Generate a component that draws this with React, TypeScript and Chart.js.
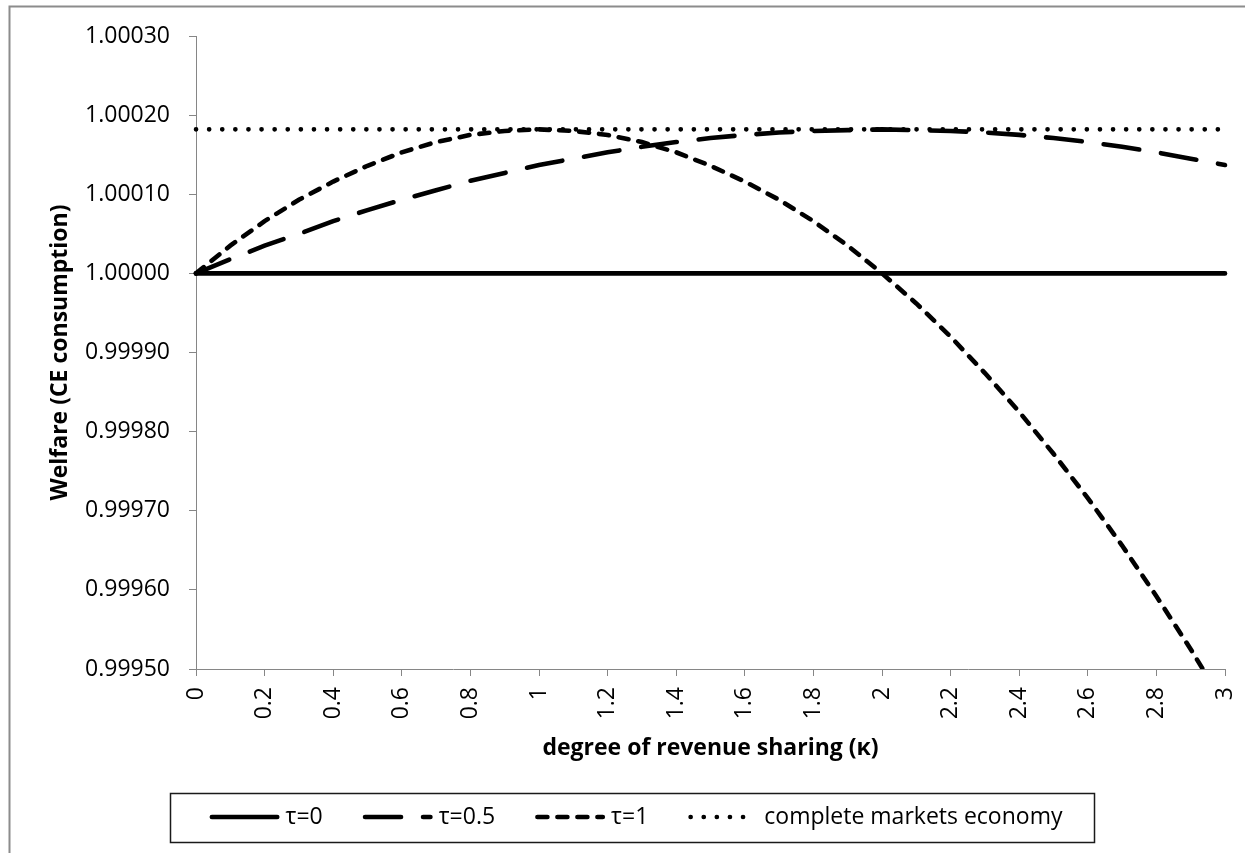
import React, { useEffect, useRef } from 'react';
import { Chart, registerables } from 'chart.js';

Chart.register(...registerables);

// ---------- data ----------
const kappa = [
  0, 0.1, 0.2, 0.3, 0.4, 0.5, 0.6, 0.7, 0.8, 0.9, 1.0,
  1.1, 1.2, 1.3, 1.4, 1.5, 1.6, 1.7, 1.8, 1.9, 2.0,
  2.1, 2.2, 2.3, 2.4, 2.5, 2.6, 2.7, 2.8, 2.9, 3.0,
];

const tau0 = [
  1.0, 1.0, 1.0, 1.0, 1.0, 1.0, 1.0, 1.0, 1.0, 1.0, 1.0,
  1.0, 1.0, 1.0, 1.0, 1.0, 1.0, 1.0, 1.0, 1.0, 1.0,
  1.0, 1.0, 1.0, 1.0, 1.0, 1.0, 1.0, 1.0, 1.0, 1.0,
];

const tau05 = [
  1.000000, 1.000018, 1.000035, 1.000050, 1.000066, 1.000080, 1.000093, 1.000105, 1.000117, 1.000127, 1.000137,
  1.000145, 1.000153, 1.000160, 1.000166, 1.000171, 1.000175, 1.000178, 1.000180, 1.000181, 1.000182,
  1.000181, 1.000180, 1.000178, 1.000175, 1.000171, 1.000166, 1.000160, 1.000153, 1.000145, 1.000137,
];

const tau1 = [
  1.000000, 1.000035, 1.000066, 1.000093, 1.000116, 1.000136, 1.000153, 1.000166, 1.000175, 1.000180, 1.000182,
  1.000180, 1.000175, 1.000166, 1.000153, 1.000136, 1.000116, 1.000093, 1.000066, 1.000035, 1.000000,
  0.999962, 0.999920, 0.999874, 0.999825, 0.999772, 0.999716, 0.999656, 0.999592, 0.999525, 0.999454,
];

const completeMarkets = [
  1.000182, 1.000182, 1.000182, 1.000182, 1.000182, 1.000182, 1.000182, 1.000182, 1.000182, 1.000182, 1.000182,
  1.000182, 1.000182, 1.000182, 1.000182, 1.000182, 1.000182, 1.000182, 1.000182, 1.000182, 1.000182,
  1.000182, 1.000182, 1.000182, 1.000182, 1.000182, 1.000182, 1.000182, 1.000182, 1.000182, 1.000182,
];

const seriesLabels = ['τ=0', 'τ=0.5', 'τ=1', 'complete markets economy'];

const xTicks = [0, 0.2, 0.4, 0.6, 0.8, 1, 1.2, 1.4, 1.6, 1.8, 2, 2.2, 2.4, 2.6, 2.8, 3];
const yTicks = [0.9995, 0.9996, 0.9997, 0.9998, 0.9999, 1.0, 1.0001, 1.0002, 1.0003];

const xTitle = 'degree of revenue sharing (κ)';
const yTitle = 'Welfare (CE consumption)';

// ---------- styling ----------
const FONT = '"Open Sans", sans-serif';
const FONT_SIZE = 23;
const AXIS_GRAY = '#868686';
const LINE_W = 4.6;

const toPoints = (ys: number[]) => kappa.map((k, i) => ({ x: k, y: ys[i] }));

const framePlugin = {
  id: 'frameAndLegend',
  beforeDraw(chart: any) {
    const ctx = chart.ctx;
    ctx.save();
    ctx.fillStyle = '#ffffff';
    ctx.fillRect(0, 0, chart.width, chart.height);
    ctx.strokeStyle = '#8c8c8c';
    ctx.lineWidth = 2;
    ctx.strokeRect(9.5, 6.5, chart.width + 40, chart.height + 40);
    ctx.restore();
  },
  afterDraw(chart: any) {
    const ctx = chart.ctx;
    ctx.save();
    ctx.font = `${FONT_SIZE}px ${FONT}`;
    const sampleW = 70;
    const gap = 6;
    const spacing = 40;
    const items = chart.data.datasets.map((ds: any) => ({ ds, w: ctx.measureText(ds.label).width }));
    const total =
      items.reduce((s: number, it: any) => s + sampleW + gap + it.w, 0) + spacing * (items.length - 1);
    const cx = 636;
    const cy = 817;
    let x = cx - total / 2;
    const boxL = x - 40;
    const boxR = x + total + 31;
    ctx.setLineDash([]);
    ctx.strokeStyle = '#1a1a1a';
    ctx.lineWidth = 1.5;
    ctx.strokeRect(Math.round(boxL) + 0.5, 793.5, Math.round(boxR - boxL), 49);
    items.forEach((it: any) => {
      const ds = it.ds;
      const cap = ds.borderWidth / 2;
      ctx.beginPath();
      ctx.setLineDash(ds.borderDash || []);
      ctx.lineDashOffset = 0;
      ctx.lineCap = ds.borderCapStyle || 'butt';
      ctx.lineWidth = ds.borderWidth;
      ctx.strokeStyle = ds.borderColor;
      ctx.moveTo(x + cap, cy);
      ctx.lineTo(x + sampleW - cap, cy);
      ctx.stroke();
      ctx.setLineDash([]);
      ctx.fillStyle = '#000000';
      ctx.textAlign = 'left';
      ctx.textBaseline = 'middle';
      ctx.fillText(ds.label, x + sampleW + gap, cy);
      x += sampleW + gap + it.w + spacing;
    });
    ctx.restore();
  },
};

export default function App() {
  const canvasRef = useRef<HTMLCanvasElement | null>(null);

  useEffect(() => {
    if (!canvasRef.current) return;
    const clip = { left: 4, right: 4, top: 4, bottom: 0 };
    const common = {
      borderColor: '#000000',
      borderWidth: LINE_W,
      pointRadius: 0,
      pointHoverRadius: 0,
      fill: false,
      tension: 0,
      clip,
    };
    const chart = new Chart(canvasRef.current, {
      type: 'line',
      data: {
        datasets: [
          { ...common, label: seriesLabels[0], data: toPoints(tau0), borderCapStyle: 'round', borderDash: [] },
          { ...common, label: seriesLabels[1], data: toPoints(tau05), borderCapStyle: 'round', borderDash: [36, 22] },
          { ...common, label: seriesLabels[2], data: toPoints(tau1), borderCapStyle: 'round', borderDash: [10, 10] },
          { ...common, label: seriesLabels[3], data: toPoints(completeMarkets), borderCapStyle: 'round', borderDash: [0.1, 13] },
        ] as any,
      },
      options: {
        responsive: false,
        animation: false,
        layout: { padding: { left: 10, right: 20, top: 36, bottom: 74 } },
        plugins: {
          legend: { display: false },
          tooltip: { enabled: false },
        },
        scales: {
          x: {
            type: 'linear',
            min: 0,
            max: 3,
            afterBuildTicks: (s: any) => {
              s.ticks = xTicks.map((v) => ({ value: v }));
            },
            afterFit: (s: any) => {
              s.height = 110;
              s.paddingLeft = 0;
              s.paddingRight = 0;
            },
            ticks: {
              autoSkip: false,
              minRotation: 90,
              maxRotation: 90,
              padding: 11,
              color: '#000000',
              font: { family: FONT, size: FONT_SIZE },
              callback: (v: any) => String(v),
            },
            grid: {
              drawOnChartArea: false,
              drawTicks: true,
              tickLength: 7,
              color: AXIS_GRAY,
              lineWidth: 1,
            },
            border: { display: true, color: AXIS_GRAY, width: 1 },
            title: {
              display: true,
              text: xTitle,
              color: '#000000',
              font: { family: FONT, size: FONT_SIZE, weight: 'bold' },
              padding: { top: 0, bottom: 17 },
            },
          },
          y: {
            type: 'linear',
            min: 0.9995,
            max: 1.0003,
            afterBuildTicks: (s: any) => {
              s.ticks = yTicks.map((v) => ({ value: v }));
            },
            afterFit: (s: any) => {
              s.width = 186;
              s.paddingTop = 0;
              s.paddingBottom = 0;
            },
            ticks: {
              autoSkip: false,
              padding: 19,
              color: '#000000',
              font: { family: FONT, size: FONT_SIZE },
              callback: (v: any) => Number(v).toFixed(5),
            },
            grid: {
              drawOnChartArea: false,
              drawTicks: true,
              tickLength: 7,
              color: AXIS_GRAY,
              lineWidth: 1,
            },
            border: { display: true, color: AXIS_GRAY, width: 1 },
            title: {
              display: true,
              text: yTitle,
              color: '#000000',
              font: { family: FONT, size: FONT_SIZE, weight: 'bold' },
              padding: { top: 37, bottom: 0 },
            },
          },
        },
      } as any,
      plugins: [framePlugin],
    });
    return () => chart.destroy();
  }, []);

  return (
    <div style={{ position: 'absolute', left: 0, top: 0, width: 1245, height: 853, background: '#fff' }}>
      <canvas ref={canvasRef} width={1245} height={853} style={{ display: 'block' }} />
    </div>
  );
}
